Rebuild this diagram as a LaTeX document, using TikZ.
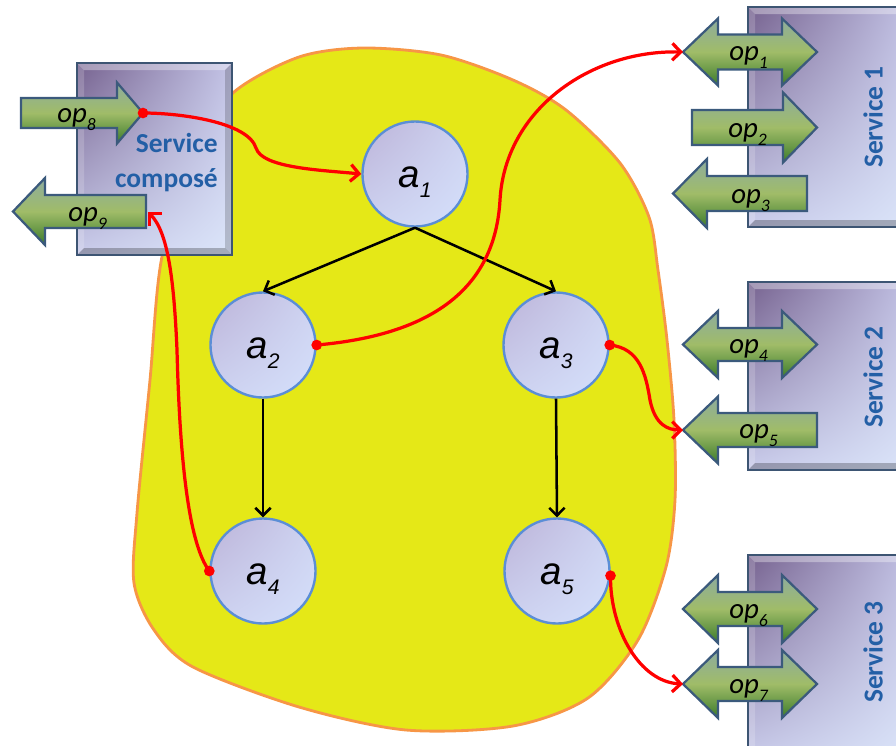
\documentclass[tikz,border=0pt]{standalone}
\usepackage{fontspec}
\usetikzlibrary{arrows.meta,shadings}
\newfontfamily\carl{Carlito}
\newfontfamily\arialf{Liberation Sans}

\definecolor{blobfill}{HTML}{E5E817}
\definecolor{blobedge}{HTML}{F79646}
\definecolor{actedge}{HTML}{5B8ED6}
\definecolor{actA}{HTML}{BCB3D8}
\definecolor{actB}{HTML}{D5E0FB}
\definecolor{boxA}{HTML}{76628F}
\definecolor{boxB}{HTML}{C3C3E6}
\definecolor{boxC}{HTML}{DCE6FA}
\definecolor{boxedge}{HTML}{3D5573}
\definecolor{opTop}{HTML}{8DAC9F}
\definecolor{opMid}{HTML}{A0BC68}
\definecolor{opBot}{HTML}{3B7B2B}
\definecolor{opEdge}{HTML}{3B5A7C}
\definecolor{svcText}{HTML}{235FA6}
\definecolor{linkred}{HTML}{FF0000}

% activity label: a with a lowered index
\newcommand\actsym[1]{a\raisebox{-7pt}{\fontsize{15}{17}\selectfont #1}}
% operation label: op with a lowered index
\newcommand\opname[1]{op\raisebox{-5.7pt}{\fontsize{12.5}{14}\selectfont #1}}

% bevelled service box: x1 y1 x2 y2
\newcommand\svcbox[4]{%
  \shade[upper left=boxA, upper right=boxB, lower left=boxB!75!boxC, lower right=boxC] (#1,#2) rectangle (#3,#4);
  \fill[white,opacity=.35] (#1,#2) -- (#3,#2) -- (#3-7,#2+7) -- (#1+7,#2+7) -- cycle;
  \fill[white,opacity=.18] (#1,#2) -- (#1+7,#2+7) -- (#1+7,#4-7) -- (#1,#4) -- cycle;
  \fill[black,opacity=.18] (#3,#2) -- (#3,#4) -- (#3-7,#4-7) -- (#3-7,#2+7) -- cycle;
  \fill[black,opacity=.25] (#1,#4) -- (#3,#4) -- (#3-7,#4-7) -- (#1+7,#4-7) -- cycle;
  \draw[boxedge, line width=1.6pt] (#1,#2) rectangle (#3,#4);
}
% block arrows: tail/tip x, centre y, shaft half height, head half height, head length
\newcommand\opR[6]{\shadedraw[oparrow] (#1,#3-#4) -- (#2-#6,#3-#4) -- (#2-#6,#3-#5) -- (#2,#3) -- (#2-#6,#3+#5) -- (#2-#6,#3+#4) -- (#1,#3+#4) -- cycle;}
\newcommand\opL[6]{\shadedraw[oparrow] (#2,#3-#4) -- (#1+#6,#3-#4) -- (#1+#6,#3-#5) -- (#1,#3) -- (#1+#6,#3+#5) -- (#1+#6,#3+#4) -- (#2,#3+#4) -- cycle;}
\newcommand\opD[6]{\shadedraw[oparrow] (#1,#3) -- (#1+#6,#3-#5) -- (#1+#6,#3-#4) -- (#2-#6,#3-#4) -- (#2-#6,#3-#5) -- (#2,#3) -- (#2-#6,#3+#5) -- (#2-#6,#3+#4) -- (#1+#6,#3+#4) -- (#1+#6,#3+#5) -- cycle;}

\tikzset{
  blob/.style={fill=blobfill, draw=blobedge, line width=2pt},
  act/.style={circle, minimum size=2.625cm, inner sep=0pt, draw=actedge, line width=1.7pt,
    upper left=actA, upper right=actB!70!actA, lower left=actB!70!actA, lower right=actB},
  actlbl/.style={font=\arialf\itshape\fontsize{27.4}{30}\selectfont, inner sep=0pt, anchor=base},
  oparrow/.style={top color=opTop, bottom color=opBot, middle color=opMid, draw=opEdge, line width=1.6pt, line join=miter},
  oplbl/.style={font=\carl\itshape\fontsize{20.5}{24}\selectfont, inner sep=0pt, anchor=base west},
  svctext/.style={font=\carl\bfseries\fontsize{19.5}{22}\selectfont, text=svcText, inner sep=0pt},
  flow/.style={draw=black, line width=1.8pt, -{Straight Barb[length=5.5pt,width=11pt]}},
  link/.style={draw=linkred, line width=2.3pt, -{Straight Barb[length=6pt,width=12pt]}},
  linkdot/.style={fill=linkred},
}

\begin{document}
\begin{tikzpicture}[x=0.025cm, y=-0.025cm]
\path[use as bounding box] (0,0) rectangle (896,745);
\clip (0,0) rectangle (896,745);

% composition area
\draw[blob] plot[smooth cycle] coordinates {(234,92) (299,57) (363,48) (441,55) (513,80) (566,110)
  (620,163) (649,217) (658,270) (667,340) (674,420) (675,500) (666,567) (638,640) (588,698)
  (513,726) (406,730) (299,707) (193,667) (154,630) (134,583) (137,513) (150,380) (161,262) (190,150)};

% service boxes
\svcbox{77}{63}{232}{255}
\svcbox{748}{7}{915}{227}
\svcbox{748}{282}{915}{470}
\svcbox{748}{555}{915}{760}

% operations
\opD{683}{817}{52}{17.5}{33.5}{35}
\opR{692}{817}{127.5}{17.5}{35}{34}
\opL{673}{807}{193.5}{17.5}{34.5}{34}
\opD{683}{817}{344.5}{16.5}{33.5}{35}
\opL{683}{817}{430}{17}{33.5}{35}
\opD{683}{817}{609}{17}{34}{35}
\opD{683}{817}{684}{17}{34}{35}
\opR{21}{143}{113}{15}{30.5}{26}
\opL{13}{146}{211.5}{16.5}{33.5}{32}

\coordinate (op1tip) at (683,52);
\coordinate (op5tip) at (683,430);
\coordinate (op7tip) at (683,684);
\coordinate (op8tip) at (143,113);
\coordinate (op9end) at (148,212);

\node[oplbl] (l1) at (729,60) {\opname{1}};
\node[oplbl] (l2) at (728,137) {\opname{2}};
\node[oplbl] (l3) at (731,203) {\opname{3}};
\node[oplbl] (l4) at (729,353) {\opname{4}};
\node[oplbl] (l5) at (739,438) {\opname{5}};
\node[oplbl] (l6) at (729,618) {\opname{6}};
\node[oplbl] (l7) at (729,693) {\opname{7}};
\node[oplbl] (l8) at (57,122) {\opname{8}};
\node[oplbl] (l9) at (68,221) {\opname{9}};

% service names
\node[svctext, anchor=base east] (sc1) at (218,152) {Service};
\node[svctext, anchor=base east] (sc2) at (218,187) {composé};
\node[svctext, rotate=90] (s1) at (873,117) {Service 1};
\node[svctext, rotate=90] (s2) at (873,377) {Service 2};
\node[svctext, rotate=90] (s3) at (873,652) {Service 3};

% activities
\node[act] (a1) at (415,174) {};
\node[act] (a2) at (263,345) {};
\node[act] (a3) at (556,345) {};
\node[act] (a4) at (263,571) {};
\node[act] (a5) at (557,571) {};
\foreach \n in {1,...,5}
  \node[actlbl] (a\n t) at ([yshift=-9.6pt]a\n.center) {\actsym{\n}};

% control flow
\draw[flow] (a1.south) -- (a2.north);
\draw[flow] (a1.south) -- (a3.north);
\draw[flow] (a2.south) -- (a4.north);
\draw[flow] (a3.south) -- (a5.north);

% invocations
\draw[link] (op8tip) .. controls (180,113) and (248,122) .. (256,148)
  .. controls (262,168) and (320,170) .. (a1.west);
\draw[link] (a2.east) .. controls (430,335) and (495,290) .. (500,200)
  .. controls (505,110) and (590,50) .. (op1tip);
\draw[link] (a3.east) .. controls (640,348) and (646,375) .. (650,400)
  .. controls (655,425) and (668,430) .. (op5tip);
\draw[link] (a4.west) .. controls (190,545) and (180,470) .. (177,350)
  .. controls (174,280) and (168,232) .. (op9end);
\draw[link] (a5.-5) .. controls (610,630) and (640,682) .. (op7tip);

\fill[linkdot] (op8tip) circle (3.8pt);
\fill[linkdot] (a2.east) circle (3.8pt);
\fill[linkdot] (a3.east) circle (3.8pt);
\fill[linkdot] (a4.west) circle (3.8pt);
\fill[linkdot] (a5.-5) circle (3.8pt);
\end{tikzpicture}
\end{document}
